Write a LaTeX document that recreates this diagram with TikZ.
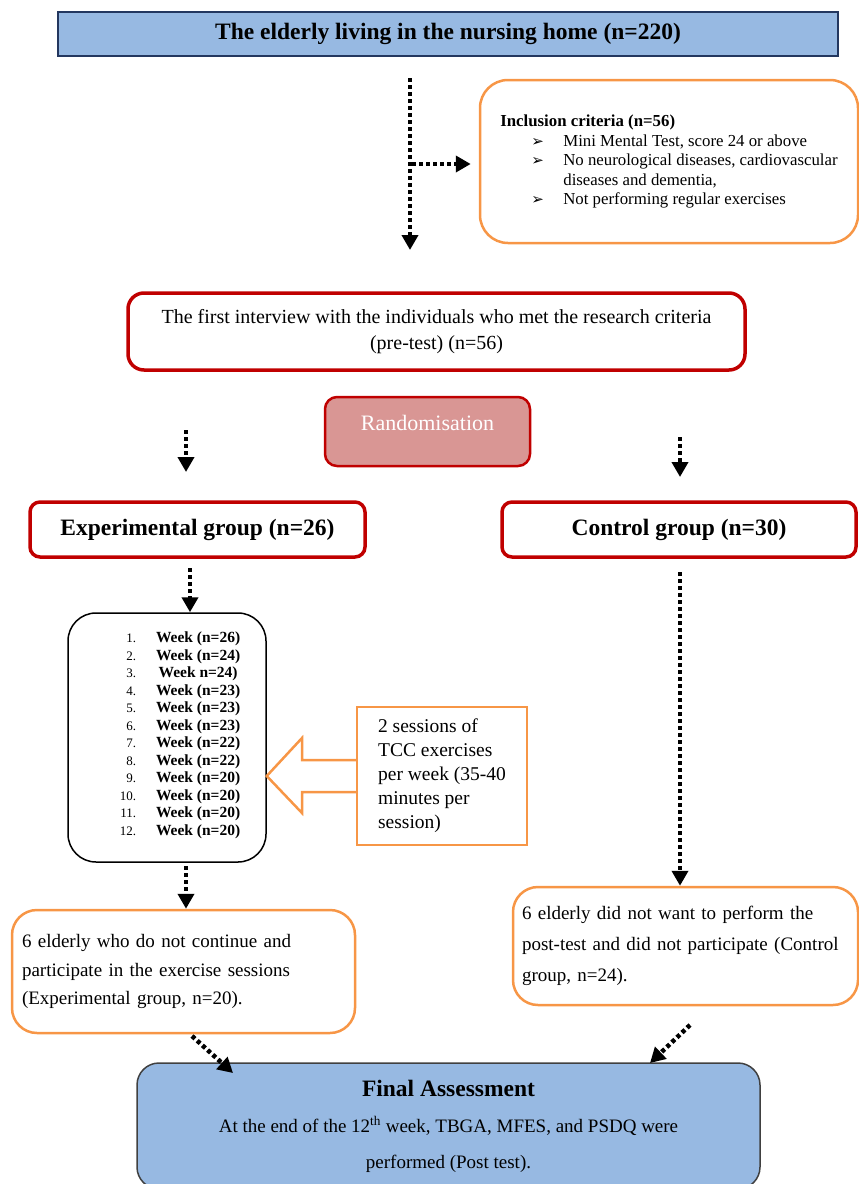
\documentclass[tikz,border=0pt]{standalone}
\usepackage{fontspec}
\setmainfont{Liberation Serif}
\newfontfamily\dejavu{DejaVu Sans}
\usetikzlibrary{arrows.meta}
\definecolor{boxblue}{RGB}{151,185,226}
\definecolor{navy}{RGB}{35,55,95}
\definecolor{dred}{RGB}{192,0,0}
\definecolor{orng}{RGB}{247,150,70}
\definecolor{pinkfill}{RGB}{217,150,148}
\newcommand\critbullet{\makebox[32pt][l]{\dejavu\fontsize{15}{15}\selectfont ➢}}
\newcommand\wknum[1]{{\fontsize{13}{13}\selectfont #1}}
\begin{document}
\begin{tikzpicture}[x=1pt,y=-1pt,
 box/.style={draw, inner sep=0pt, anchor=center, align=center},
 redbox/.style={box, draw=dred, line width=3.5pt},
 orbox/.style={box, draw=orng, line width=2.5pt},
 dotarrow/.style={line width=4.5pt, dash pattern=on 4pt off 3pt, -{Triangle[width=16pt,length=15pt]}},
 headfont/.style={font=\fontsize{23.5}{26}\selectfont\bfseries},
]
\useasboundingbox (0,0) rectangle (859,1184);

\node[box, draw=navy, line width=2pt, fill=boxblue, minimum width=780pt, minimum height=44pt, headfont] (top) at (448,34) {The elderly living in the nursing home (n=220)};

\node[orbox, rounded corners=28pt, minimum width=378pt, minimum height=163pt, align=left, font=\fontsize{16.8}{19.5}\selectfont] (incl) at (669,161.5) {{\bfseries Inclusion criteria (n=56)}\\
\hspace*{31pt}\critbullet Mini Mental Test, score 24 or above\\
\hspace*{31pt}\critbullet No neurological diseases, cardiovascular\\
\hspace*{63pt}diseases and dementia,\\
\hspace*{31pt}\critbullet Not performing regular exercises};

\node[redbox, rounded corners=16pt, minimum width=617pt, minimum height=77pt, font=\fontsize{20}{26}\selectfont] (first) at (436.5,331.5) {The first interview with the individuals who met the research criteria\\(pre-test) (n=56)};

\node[box, draw=dred, line width=2.5pt, fill=pinkfill, rounded corners=12pt, minimum width=205pt, minimum height=69pt] (randbox) at (427.5,431.5) {};
\node[text=white, font=\fontsize{22}{24}\selectfont, inner sep=0pt] (rand) at (427.5,423) {Randomisation};

\node[redbox, rounded corners=10pt, minimum width=335pt, minimum height=55pt, headfont] (exp) at (197.5,529.5) {Experimental group (n=26)};
\node[redbox, rounded corners=10pt, minimum width=354pt, minimum height=55pt, headfont] (ctrl) at (679,529.5) {Control group (n=30)};

\node[box, draw=black, line width=1.5pt, rounded corners=28pt, minimum width=198pt, minimum height=249pt] (weeks) at (167,737.5) {};
\node[inner sep=0pt] (weeklist) at (180,735.5) {\fontsize{15.5}{17.5}\selectfont
\begin{tabular}{@{}r@{\hspace{20pt}}l@{}}
\wknum{1.} & \textbf{Week (n=26)}\\
\wknum{2.} & \textbf{Week (n=24)}\\
\wknum{3.} & \textbf{\,Week n=24)}\\
\wknum{4.} & \textbf{Week (n=23)}\\
\wknum{5.} & \textbf{Week (n=23)}\\
\wknum{6.} & \textbf{Week (n=23)}\\
\wknum{7.} & \textbf{Week (n=22)}\\
\wknum{8.} & \textbf{Week (n=22)}\\
\wknum{9.} & \textbf{Week (n=20)}\\
\wknum{10.} & \textbf{Week (n=20)}\\
\wknum{11.} & \textbf{Week (n=20)}\\
\wknum{12.} & \textbf{Week (n=20)}
\end{tabular}};

\node[orbox, minimum width=170pt, minimum height=138pt, align=left, font=\fontsize{19.5}{24}\selectfont] (sess) at (442,776) {2 sessions of\\TCC exercises\\per week (35-40\\minutes per\\session)};

\coordinate (tip) at (weeks.east |- sess.west);
\draw[orng, line width=2.5pt, line join=miter]
  (sess.west |- 0,760) -- (302,760) -- (302,738) -- (tip) -- (302,813) -- (302,792) -- (sess.west |- 0,792);

\node[orbox, rounded corners=25pt, minimum width=343pt, minimum height=123pt, text width=323pt, align=left, font=\fontsize{19}{28.5}\selectfont] (dropE) at (183.5,971.5) {6 elderly who do not continue and\\participate in the exercise sessions\\(Experimental group, n=20).};

\node[orbox, rounded corners=25pt, minimum width=345pt, minimum height=118pt, text width=327pt, align=left, font=\fontsize{19}{31}\selectfont] (dropC) at (685.5,946) {6 elderly did not want to perform the\\post-test and did not participate (Control\\group, n=24).};

\node[box, draw=black!75, line width=1.5pt, fill=boxblue, rounded corners=22pt, minimum width=623pt, minimum height=126pt, font=\fontsize{19}{36}\selectfont] (final) at (448.5,1126) {{\fontsize{23.5}{26}\selectfont\bfseries Final Assessment}\\At the end of the 12\textsuperscript{th} week, TBGA, MFES, and PSDQ were\\performed (Post test).};

% connectors
\coordinate (a1s) at (410,78); \coordinate (a1e) at (410,250);
\draw[dotarrow] (a1s) -- (a1e);
\coordinate (a2s) at (412,164);
\draw[dotarrow] (a2s) -- ([xshift=-8pt]incl.west |- a2s);
\coordinate (a3s) at (186,430); \coordinate (a3e) at (186,472);
\draw[dotarrow] (a3s) -- (a3e);
\coordinate (a4s) at (680,437); \coordinate (a4e) at (680,477);
\draw[dotarrow] (a4s) -- (a4e);
\coordinate (a5s) at (190,568);
\draw[dotarrow] (a5s) -- (weeks.north -| a5s);
\coordinate (a6s) at (186,866);
\draw[dotarrow] (a6s) -- (dropE.north -| a6s);
\coordinate (a7s) at (680,572);
\draw[dotarrow] (a7s) -- (dropC.north -| a7s);
\coordinate (a8s) at (192,1036); \coordinate (a8e) at (233,1073);
\draw[dotarrow] (a8s) -- (a8e);
\coordinate (a9s) at (690,1025); \coordinate (a9e) at (650,1063);
\draw[dotarrow] (a9s) -- (a9e);
\end{tikzpicture}
\end{document}
